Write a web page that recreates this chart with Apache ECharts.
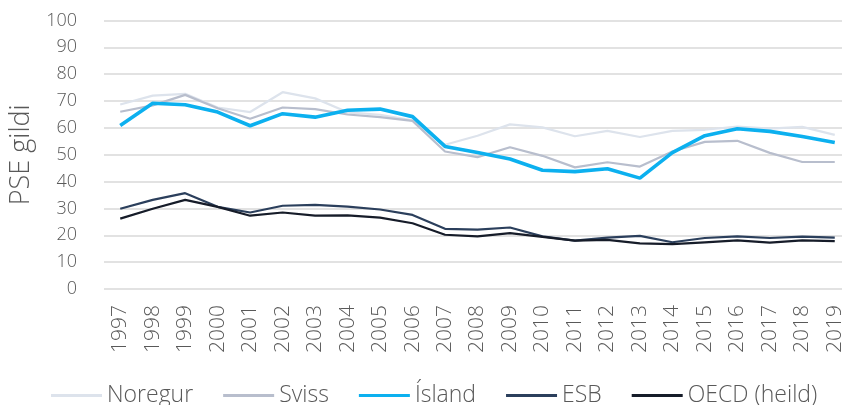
<!DOCTYPE html>
<html>
<head>
<meta charset="utf-8">
<script src="https://cdn.jsdelivr.net/npm/echarts@6/dist/echarts.min.js"></script>
<style>
html,body{margin:0;padding:0;background:#fff;}
#chart{width:842px;height:405px;}
</style>
</head>
<body>
<div id="chart"></div>
<script>
const years = ['1997','1998','1999','2000','2001','2002','2003','2004','2005','2006','2007','2008','2009','2010','2011','2012','2013','2014','2015','2016','2017','2018','2019'];
const noregur = [68.7, 72.0, 72.7, 67.6, 65.9, 73.3, 71.0, 65.8, 64.9, 62.8, 53.7, 57.1, 61.3, 60.2, 56.9, 58.9, 56.6, 58.9, 59.3, 60.5, 59.7, 60.4, 57.4];
const sviss = [66.0, 68.4, 72.3, 67.3, 63.4, 67.6, 67.0, 65.0, 64.0, 62.6, 51.2, 49.1, 52.8, 49.6, 45.3, 47.2, 45.6, 51.2, 54.8, 55.2, 50.7, 47.3, 47.3];
const island = [60.9, 69.2, 68.6, 65.9, 60.8, 65.3, 64.0, 66.6, 67.0, 64.2, 53.1, 50.8, 48.4, 44.2, 43.7, 44.8, 41.3, 50.8, 57.1, 59.7, 58.7, 56.8, 54.6];
const esb = [29.9, 33.2, 35.7, 30.6, 28.5, 31.0, 31.3, 30.7, 29.6, 27.6, 22.4, 22.1, 22.9, 19.6, 18.0, 19.1, 19.8, 17.4, 19.0, 19.6, 19.0, 19.5, 19.1];
const oecd = [26.2, 29.9, 33.2, 30.6, 27.3, 28.5, 27.3, 27.4, 26.6, 24.5, 20.2, 19.6, 20.8, 19.4, 18.0, 18.3, 17.0, 16.7, 17.4, 18.1, 17.3, 18.1, 17.8];
const legendNames = ['Noregur','Sviss','Ísland','ESB','OECD (heild)'];

const FONT = '"Open Sans", Roboto, sans-serif';
const chart = echarts.init(document.getElementById('chart'), null, {renderer: 'canvas'});

function mk(name, data, color, width, z) {
  return {
    name: name, type: 'line', data: data, symbol: 'none', showSymbol: false,
    lineStyle: {color: color, width: width}, itemStyle: {color: color}, z: z,
    animation: false
  };
}

chart.setOption({
  animation: false,
  grid: {left: 104, right: -9, top: 20.5, bottom: 116, containLabel: false, outerBoundsMode: 'none'},
  legend: {
    top: 379, left: 46,
    itemWidth: 51, itemHeight: 3, itemGap: 30,
    textStyle: {fontFamily: FONT, fontWeight: 300, fontSize: 23, lineHeight: 22, color: '#595959'},
    data: legendNames.map(n => ({name: n, icon: 'rect'}))
  },
  xAxis: {
    type: 'category', data: years, boundaryGap: true,
    axisLine: {show: false}, axisTick: {show: false},
    axisLabel: {rotate: 90, margin: 16, fontFamily: FONT, fontWeight: 300, fontSize: 21, color: '#595959', interval: 0}
  },
  yAxis: {
    type: 'value', min: 0, max: 100, interval: 10,
    name: 'PSE gildi', nameLocation: 'middle', nameGap: 68, nameRotate: 90,
    nameTextStyle: {fontFamily: FONT, fontWeight: 300, fontSize: 27, color: '#595959'},
    axisLine: {show: false}, axisTick: {show: false},
    axisLabel: {margin: 27, fontFamily: FONT, fontWeight: 300, fontSize: 18, color: '#595959'},
    splitLine: {lineStyle: {color: '#d9d9d9', width: 1.5}}
  },
  series: [
    mk('Noregur', noregur, '#dde3ec', 2.2, 2),
    mk('Sviss', sviss, '#b8becd', 2.2, 3),
    mk('Ísland', island, '#0cb0ef', 3.6, 6),
    mk('ESB', esb, '#2b3f5c', 2.2, 4),
    mk('OECD (heild)', oecd, '#161c29', 2.2, 5)
  ]
});
</script>
</body>
</html>
